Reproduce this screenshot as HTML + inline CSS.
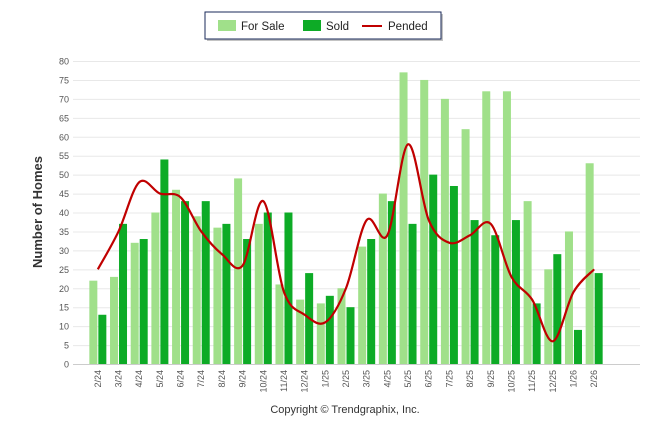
<!DOCTYPE html>
<html><head><meta charset="utf-8"><style>
body{margin:0;background:#fff;font-family:"Liberation Sans",sans-serif;}
svg{display:block}
</style></head><body>
<svg id="c" width="646" height="434">
 <g>
  <rect x="207" y="14" width="236" height="27" fill="#888" opacity="0.5"/>
  <rect x="205" y="12" width="236" height="27" fill="#fff" stroke="#1a2a5a" stroke-width="1"/>
  <rect x="218" y="20" width="18" height="11" fill="#a0e08a"/>
  <text x="241" y="30" font-size="11.5" fill="#222">For Sale</text>
  <rect x="303" y="20" width="18" height="11" fill="#0dab26"/>
  <text x="326" y="30" font-size="11.5" fill="#222">Sold</text>
  <line x1="362" y1="26" x2="382" y2="26" stroke="#c00000" stroke-width="2"/>
  <text x="388" y="30" font-size="11.5" fill="#222">Pended</text>
 </g>
 <text transform="translate(42,212) rotate(-90)" text-anchor="middle" font-size="13" font-weight="bold" fill="#333">Number of Homes</text>
 <text x="345" y="413" text-anchor="middle" font-size="11" fill="#333">Copyright © Trendgraphix, Inc.</text>
 <g id="grid"></g><g id="bars"></g><g id="line"></g><g id="xl"></g>
</svg>
<script>
const categories=["2/24","3/24","4/24","5/24","6/24","7/24","8/24","9/24","10/24","11/24","12/24","1/25","2/25","3/25","4/25","5/25","6/25","7/25","8/25","9/25","10/25","11/25","12/25","1/26","2/26"];
const forSale=[22,23,32,40,46,39,36,49,37,21,17,16,20,31,45,77,75,70,62,72,72,43,25,35,53];
const sold=[13,37,33,54,43,43,37,33,40,40,24,18,15,33,43,37,50,47,38,34,38,16,29,9,24];
const pended=[25,35,48,45,44,35,29,26,43,19,13,11,20,38,34,58,38,32,34,37,23,17,6,19,25];
const yTicks=[0,5,10,15,20,25,30,35,40,45,50,55,60,65,70,75,80];
const NS="http://www.w3.org/2000/svg";
const y0=364,y1=61,yMax=80,xL=87.5,xR=604.5;
const step=(xR-xL)/categories.length;
const y=v=>y0-(v/yMax)*(y0-y1);
const cx=i=>xL+step*(i+0.5);
function mk(t,a,p){const e=document.createElementNS(NS,t);for(const k in a)e.setAttribute(k,a[k]);p.appendChild(e);return e;}
const g=document.getElementById('grid');
yTicks.forEach(v=>{
 const l=mk('line',{x1:73,x2:640,y1:y(v)+0.5,y2:y(v)+0.5,stroke:v===0?'#ccc':'#e8e8e8','stroke-width':1},g);
 
 
 const t=mk('text',{x:69,y:y(v)+3.5,'text-anchor':'end','font-size':9,fill:'#555'},g);
 t.textContent=v;
 
 
});
const b=document.getElementById('bars');
categories.forEach((c,i)=>{
 const r1=mk('rect',{x:cx(i)-8.5,y:y(forSale[i]),width:8,height:y0-y(forSale[i]),fill:'#a0e08a'},b);
 
 
 const r2=mk('rect',{x:cx(i)+0.5,y:y(sold[i]),width:8,height:y0-y(sold[i]),fill:'#0dab26'},b);
 
 
 const t=mk('text',{transform:`translate(${cx(i)+3},370) rotate(-90)`,'text-anchor':'end','font-size':9,fill:'#555'},document.getElementById('xl'));
 t.textContent=c;
 
 
});
const pts=pended.map((v,i)=>[cx(i),y(v)]);
let d=`M${pts[0][0]},${pts[0][1]}`;
for(let i=0;i<pts.length-1;i++){
 const p0=pts[Math.max(0,i-1)],p1=pts[i],p2=pts[i+1],p3=pts[Math.min(pts.length-1,i+2)];
 const k=1/6;
 d+=` C${p1[0]+(p2[0]-p0[0])*k},${p1[1]+(p2[1]-p0[1])*k} ${p2[0]-(p3[0]-p1[0])*k},${p2[1]-(p3[1]-p1[1])*k} ${p2[0]},${p2[1]}`;
}
const pl=mk('path',{d:d,fill:'none',stroke:'#c00000','stroke-width':2.2},document.getElementById('line'));


</script>
</body></html>
